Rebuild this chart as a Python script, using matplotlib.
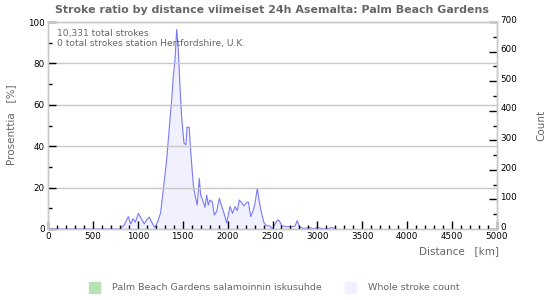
"""Stroke ratio by distance, last 24h, station Palm Beach Gardens."""

import matplotlib
matplotlib.use("Agg")
import matplotlib.pyplot as plt
import matplotlib.transforms as mtransforms
from matplotlib.patches import Rectangle
from matplotlib.ticker import MultipleLocator

# distance (km) and whole stroke count
distance_km = [0, 800, 850, 895, 920, 947, 973, 1006, 1043, 1073, 1099, 1128, 1165, 1191,
               1228, 1254, 1284, 1321, 1358, 1377, 1395, 1414, 1433, 1451, 1470, 1488,
               1514, 1536, 1548, 1572, 1590, 1605, 1620, 1644, 1662, 1685, 1700, 1722,
               1748, 1767, 1785, 1804, 1830, 1852, 1878, 1908, 1934, 1960, 1990, 2027,
               2056, 2082, 2108, 2130, 2156, 2182, 2205, 2231, 2257, 2287, 2305, 2331,
               2353, 2379, 2405, 2435, 2472, 2498, 2527, 2554, 2576, 2602, 2658, 2713,
               2750, 2776, 2799, 2843, 2918, 2955, 2992, 3048, 3103, 3159, 3215]
stroke_count = [0, 0, 14, 42, 17, 35, 23, 53, 33, 17, 31, 40, 17, 5,
                30, 55, 132, 233, 369, 436, 515, 571, 675, 605, 481, 380,
                290, 285, 344, 344, 260, 200, 143, 104, 81, 171, 115, 98,
                73, 115, 81, 98, 92, 47, 59, 104, 78, 53, 21, 76,
                53, 76, 62, 98, 89, 78, 87, 92, 42, 64, 87, 138,
                92, 53, 21, 11, 10, 0, 16, 30, 28, 11, 8, 8,
                10, 28, 8, 2, 5, 0, 5, 2, 0, 5, 0]
# station ratio is zero everywhere (0 strokes at the station)
ratio_pct = [0] * len(distance_km)

total_strokes = "10,331 total strokes"
station_strokes = "0 total strokes station Hertfordshire, U.K."
title = "Stroke ratio by distance viimeiset 24h Asemalta: Palm Beach Gardens"
legend_labels = ["Palm Beach Gardens salamoinnin iskusuhde", "Whole stroke count"]

plt.rcParams["font.family"] = "DejaVu Sans"
grey_text = "#666666"
frame = "#c8c8c8"
line_blue = "#7a7af5"
fill_blue = "#f0f0fe"
green = "#b8e2b8"

fig = plt.figure(figsize=(5.5, 3.0), dpi=100)
ax = fig.add_axes([48 / 550, 1 - 229 / 300, 449 / 550, 207 / 300])
ax2 = ax.twinx()

ax2.fill_between(distance_km, stroke_count, 0, color=fill_blue, lw=0)
ax2.plot(distance_km, stroke_count, color=line_blue, lw=0.8)
ax.fill_between(distance_km, ratio_pct, 0, color=green, lw=0)

ax.set_xlim(0, 5000)
ax.set_ylim(0, 100)
ax2.set_ylim(0, 700)
ax.set_zorder(ax2.get_zorder() + 1)
ax.patch.set_visible(False)

for y in (20, 40, 60, 80):
    ax.axhline(y, color=frame, lw=1, zorder=0)

ax.xaxis.set_major_locator(MultipleLocator(500))
ax.xaxis.set_minor_locator(MultipleLocator(100))
ax.yaxis.set_major_locator(MultipleLocator(20))
ax.yaxis.set_minor_locator(MultipleLocator(10))
ax2.yaxis.set_major_locator(MultipleLocator(100))
ax2.yaxis.set_minor_locator(MultipleLocator(50))

ax.tick_params(axis="both", which="major", direction="in", length=6, width=1,
               labelsize=6.3, colors="black", pad=2.5)
ax.tick_params(axis="both", which="minor", direction="in", length=3, width=1)
ax2.tick_params(axis="y", which="major", direction="in", length=6, width=1,
                labelsize=6.3, pad=2.5)
ax2.tick_params(axis="y", which="minor", direction="in", length=3, width=1)

# right labels sit a little above their ticks
shift_up = mtransforms.ScaledTranslation(0, 2 / 72, fig.dpi_scale_trans)
for lbl in ax2.get_yticklabels():
    lbl.set_transform(lbl.get_transform() + shift_up)

for a in (ax, ax2):
    for s in a.spines.values():
        s.set_color(frame)
        s.set_linewidth(1)

fig.text(272 / 550, 1 - 10 / 300, title, ha="center", va="center",
         fontsize=7.9, fontweight="bold", color=grey_text)
ax.text(0.02, 0.965, total_strokes, transform=ax.transAxes, fontsize=6.6,
        color=grey_text, va="top")
ax.text(0.02, 0.92, station_strokes, transform=ax.transAxes, fontsize=6.6,
        color=grey_text, va="top")

fig.text(499 / 550, 1 - 251 / 300, "Distance   [km]", ha="right", va="center",
         fontsize=7.5, color=grey_text)
fig.text(11 / 550, 1 - 125 / 300, "Prosenttia   [%]", ha="center", va="center",
         rotation=90, fontsize=7.5, color=grey_text)
fig.text(541 / 550, 1 - 125 / 300, "Count", ha="center", va="center",
         rotation=90, fontsize=7.5, color=grey_text)

# legend row
for (x0, colour, label) in ((89, green, legend_labels[0]), (345, fill_blue, legend_labels[1])):
    fig.patches.append(Rectangle((x0 / 550, 1 - 293 / 300), 11 / 550, 11 / 300,
                                 transform=fig.transFigure, color=colour))
    fig.text((x0 + 23) / 550, 1 - 287 / 300, label, va="center",
             fontsize=6.8, color=grey_text)

fig.savefig("out.png", dpi=100)
